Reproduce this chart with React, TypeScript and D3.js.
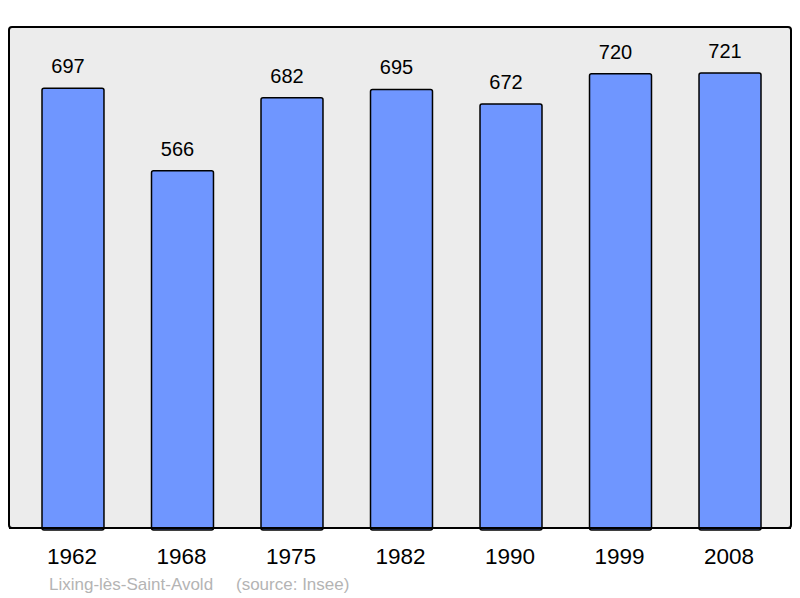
import React, { useRef, useEffect } from 'react';
import * as d3 from 'd3';

const years = ['1962', '1968', '1975', '1982', '1990', '1999', '2008'];
const population = [697, 566, 682, 695, 672, 720, 721];
const townName = 'Lixing-lès-Saint-Avold';
const sourceNote = '(source: Insee)';

const App = () => {
  const chartRef = useRef<SVGSVGElement>(null);

  useEffect(() => {
    const svg = d3.select(chartRef.current);
    svg.selectAll('*').remove();

    const frame = { left: 9, top: 27, right: 791, bottom: 528 };

    const x = d3
      .scaleBand<string>()
      .domain(years)
      .range([42, 761])
      .paddingInner(0.434)
      .paddingOuter(0);

    const y = d3.scaleLinear().domain([0, 794]).range([frame.bottom, frame.top]);

    svg
      .append('rect')
      .attr('x', frame.left)
      .attr('y', frame.top)
      .attr('width', frame.right - frame.left)
      .attr('height', frame.bottom - frame.top)
      .attr('rx', 3)
      .attr('fill', '#ececec')
      .attr('stroke', '#000')
      .attr('stroke-width', 2);

    const bars = svg
      .append('g')
      .selectAll('g')
      .data(population)
      .enter()
      .append('g');

    bars
      .append('rect')
      .attr('x', (d, i) => x(years[i]) as number)
      .attr('y', d => y(d))
      .attr('width', x.bandwidth())
      .attr('height', d => frame.bottom - y(d) + 2)
      .attr('rx', 2)
      .attr('fill', '#6f96ff')
      .attr('stroke', '#000')
      .attr('stroke-width', 1.5);

    // value labels sit a little left of the bar centre
    bars
      .append('text')
      .attr('x', (d, i) => (x(years[i]) as number) + x.bandwidth() / 2 - 5)
      .attr('y', d => y(d) - 15)
      .attr('text-anchor', 'middle')
      .attr('font-family', 'Liberation Sans, Arial, sans-serif')
      .attr('font-size', 20)
      .attr('fill', '#000')
      .text(d => d);

    // redraw bottom border over bar bottoms
    svg
      .append('line')
      .attr('x1', frame.left)
      .attr('x2', frame.right)
      .attr('y1', frame.bottom)
      .attr('y2', frame.bottom)
      .attr('stroke', '#000')
      .attr('stroke-width', 2);

    svg
      .append('g')
      .selectAll('text')
      .data(years)
      .enter()
      .append('text')
      .attr('x', d => (x(d) as number) + x.bandwidth() / 2 - 1)
      .attr('y', 564)
      .attr('text-anchor', 'middle')
      .attr('font-family', 'Liberation Sans, Arial, sans-serif')
      .attr('font-size', 22.5)
      .attr('fill', '#000')
      .text(d => d);

    svg
      .append('text')
      .attr('x', 49)
      .attr('y', 590)
      .attr('font-family', 'Liberation Sans, Arial, sans-serif')
      .attr('font-size', 17)
      .attr('fill', '#b4b4b4')
      .text(townName);

    svg
      .append('text')
      .attr('x', 236)
      .attr('y', 590)
      .attr('font-family', 'Liberation Sans, Arial, sans-serif')
      .attr('font-size', 17)
      .attr('fill', '#b4b4b4')
      .text(sourceNote);
  }, []);

  return (
    <svg
      ref={chartRef}
      width={800}
      height={598}
      style={{ position: 'absolute', left: 0, top: 0, background: '#fff' }}
    />
  );
};

export default App;
